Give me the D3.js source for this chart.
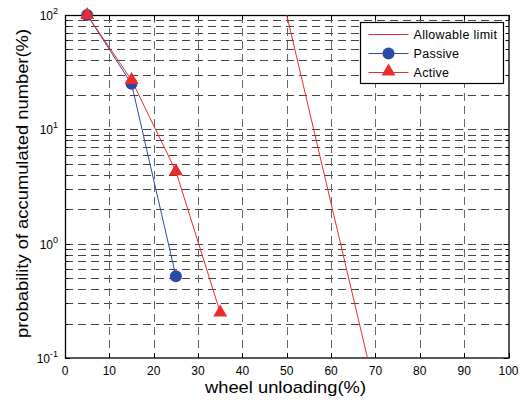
<!DOCTYPE html>
<html>
<head>
<meta charset="utf-8">
<script src="https://cdn.jsdelivr.net/npm/d3@7"></script>
<style>
  body { margin: 0; background: #fff; }
  text { font-family: "Liberation Sans", Arial, sans-serif; fill: #000; }
</style>
</head>
<body>
<div id="chart"></div>
<script>
// chart values
const limitX = [50, 68.2];
const limitY = [100, 0.1];
const passiveX = [5, 15, 25];
const passiveY = [100, 25, 0.52];
const activeX = [5, 15, 25, 35];
const activeY = [100, 27, 4.3, 0.25];
const xTicks = [0, 10, 20, 30, 40, 50, 60, 70, 80, 90, 100];
const yDecades = [-1, 0, 1, 2];
const legendNames = ['Allowable limit', 'Passive', 'Active'];

const width = 529, height = 403;
const margin = [15, 45, 65, 20]; // top, bottom, left, right

const svg = d3.select('#chart').append('svg')
    .attr('width', width)
    .attr('height', height);

const plotW = width - margin[2] - margin[3] - 0.5,
    plotH = height - margin[0] - margin[1];

const x = d3.scaleLinear([0, 100], [0, plotW]);
const y = d3.scaleLog([0.1, 100], [plotH, 0]);

const chart = svg.append('g')
    .attr('transform', `translate(${margin[2]}, ${margin[0]})`);

// minor log values
let minor = [];
[0.1, 1, 10].forEach(b => { for (let k = 2; k <= 9; k++) minor.push(b * k); });
const hGrid = minor.concat([1, 10]);

// horizontal grid
chart.append('g').selectAll('line')
    .data(hGrid)
    .join('line')
    .attr('x1', 0).attr('x2', plotW)
    .attr('y1', d => Math.round(y(d)) + 0.5)
    .attr('y2', d => Math.round(y(d)) + 0.5)
    .attr('stroke', '#444')
    .attr('stroke-dasharray', '8,5');

// vertical grid
chart.append('g').selectAll('line')
    .data(xTicks.slice(1, -1))
    .join('line')
    .attr('x1', d => Math.round(x(d)) + 0.5)
    .attr('x2', d => Math.round(x(d)) + 0.5)
    .attr('y1', 0).attr('y2', plotH)
    .attr('stroke', '#666')
    .attr('stroke-dasharray', '8,5');

// inward tick marks
const tickG = chart.append('g').attr('stroke', '#000');
xTicks.forEach(d => {
    const px = Math.round(x(d)) + 0.5;
    tickG.append('line').attr('x1', px).attr('x2', px).attr('y1', plotH).attr('y2', plotH - 5);
    tickG.append('line').attr('x1', px).attr('x2', px).attr('y1', 0).attr('y2', 5);
});
minor.concat(yDecades.map(e => Math.pow(10, e))).forEach(d => {
    const py = Math.round(y(d)) + 0.5;
    const len = minor.includes(d) ? 3 : 5;
    tickG.append('line').attr('x1', 0).attr('x2', len).attr('y1', py).attr('y2', py);
    tickG.append('line').attr('x1', plotW).attr('x2', plotW - len).attr('y1', py).attr('y2', py);
});

// frame
chart.append('rect')
    .attr('x', 0.5).attr('y', 0.5)
    .attr('width', plotW).attr('height', plotH - 0.5)
    .attr('fill', 'none')
    .attr('stroke', '#000')
    .attr('stroke-width', 1.3);

// x tick labels
chart.append('g').selectAll('text')
    .data(xTicks)
    .join('text')
    .attr('x', d => x(d))
    .attr('y', plotH + 17)
    .attr('text-anchor', 'middle')
    .style('font-size', '12px')
    .text(d => d);

// y tick labels 10^n
const yl = chart.append('g').selectAll('text')
    .data(yDecades)
    .join('text')
    .attr('x', -7)
    .attr('y', d => y(Math.pow(10, d)) + 5)
    .attr('text-anchor', 'end')
    .style('font-size', '12px');
yl.append('tspan').text('10');
yl.append('tspan').attr('dy', -6).style('font-size', '9px').text(d => d);

// clip
svg.append('clipPath').attr('id', 'clip')
    .append('rect').attr('width', plotW).attr('height', plotH);

const line = d3.line().x(d => x(d[0])).y(d => y(d[1]));
const red = '#ee2b2b', blue = '#2c4aa5';

chart.append('g').attr('clip-path', 'url(#clip)')
    .append('path')
    .datum(d3.zip(limitX, limitY))
    .attr('d', line)
    .attr('fill', 'none').attr('stroke', red).attr('stroke-width', 1);

chart.append('path')
    .datum(d3.zip(passiveX, passiveY))
    .attr('d', line)
    .attr('fill', 'none').attr('stroke', blue).attr('stroke-width', 1);

chart.append('path')
    .datum(d3.zip(activeX, activeY))
    .attr('d', line)
    .attr('fill', 'none').attr('stroke', red).attr('stroke-width', 1);

const tri = d3.symbol(d3.symbolTriangle, 85);

chart.append('g').selectAll('circle')
    .data(d3.zip(passiveX, passiveY))
    .join('circle')
    .attr('cx', d => x(d[0])).attr('cy', d => y(d[1]))
    .attr('r', 6)
    .attr('fill', blue);

chart.append('g').selectAll('path')
    .data(d3.zip(activeX, activeY))
    .join('path')
    .attr('d', tri)
    .attr('transform', d => `translate(${x(d[0])}, ${y(d[1])})`)
    .attr('fill', red);

// legend
const lg = svg.append('g').attr('transform', 'translate(360.5, 22.5)');
lg.append('rect')
    .attr('width', 143).attr('height', 61)
    .attr('fill', '#fff').attr('stroke', '#000').attr('stroke-width', 1.2);
legendNames.forEach((name, i) => {
    const ly = 12 + i * 19;
    const col = i === 1 ? blue : red;
    lg.append('line')
        .attr('x1', 8).attr('x2', 48).attr('y1', ly).attr('y2', ly)
        .attr('stroke', col).attr('stroke-width', 1);
    if (i === 1) {
        lg.append('circle').attr('cx', 28).attr('cy', ly).attr('r', 6).attr('fill', blue);
    } else if (i === 2) {
        lg.append('path').attr('d', tri)
            .attr('transform', `translate(28, ${ly - 1})`).attr('fill', red);
    }
    lg.append('text')
        .attr('x', 53).attr('y', ly + 4.5)
        .style('font-size', '12.5px')
        .style('letter-spacing', '0.3px')
        .text(name);
});

// axis titles
svg.append('text')
    .attr('x', 205)
    .attr('y', 393)
    .attr('textLength', 161)
    .attr('lengthAdjust', 'spacingAndGlyphs')
    .style('font-size', '17px')
    .text('wheel unloading(%)');

svg.append('text')
    .attr('transform', 'translate(28, 338) rotate(-90)')
    .attr('textLength', 309)
    .attr('lengthAdjust', 'spacingAndGlyphs')
    .style('font-size', '16.5px')
    .text('probability of accumulated number(%)');
</script>
</body>
</html>
